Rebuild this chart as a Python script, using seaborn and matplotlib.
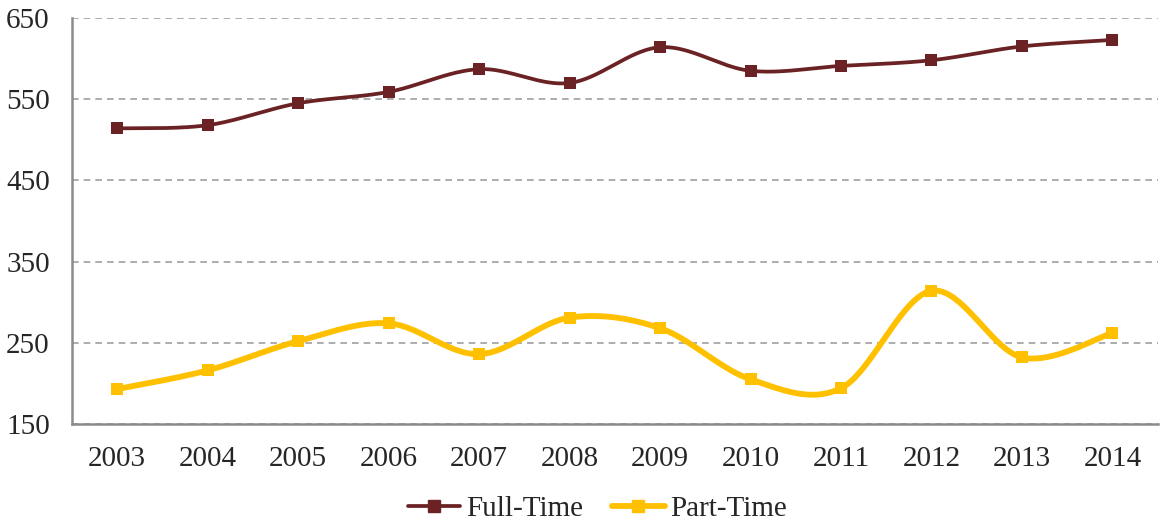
import numpy as np
import pandas as pd
import matplotlib
matplotlib.use('Agg')
import matplotlib.pyplot as plt
from matplotlib.lines import Line2D
import seaborn as sns

anos = ['2003', '2004', '2005', '2006', '2007', '2008', '2009', '2010', '2011', '2012', '2013', '2014']
full_time = [514, 518, 545, 559, 587, 570, 614, 585, 591, 598, 615, 623]
part_time = [193, 216, 252, 274, 236, 281, 268, 205, 194, 314, 232, 262]

cor_full = '#6B2224'
cor_part = '#FFC000'
cor_cinza = '#8C8C8C'


def curva_suave(y, n=40):
    # bezier estilo excel (catmull-rom) entre os pontos
    y = np.asarray(y, dtype=float)
    x = np.arange(len(y), dtype=float)
    pts = np.column_stack([x, y])
    ext = np.vstack([pts[0], pts, pts[-1]])
    saida = []
    t = np.linspace(0, 1, n)[:, None]
    for i in range(len(pts) - 1):
        p0, p3 = ext[i + 1], ext[i + 2]
        p1 = p0 + (ext[i + 2] - ext[i]) / 6
        p2 = p3 - (ext[i + 3] - ext[i + 1]) / 6
        seg = (1 - t) ** 3 * p0 + 3 * (1 - t) ** 2 * t * p1 + 3 * (1 - t) * t ** 2 * p2 + t ** 3 * p3
        saida.append(seg if i == 0 else seg[1:])
    seg = np.vstack(saida)
    return pd.DataFrame({'x': seg[:, 0], 'y': seg[:, 1]})


sns.set_style('white')
plt.rcParams['font.family'] = ['Liberation Serif', 'DejaVu Serif']

fig = plt.figure(figsize=(11.6, 5.25), dpi=100)
ax = fig.add_axes([0.062, 0.1924, 0.936, 0.7733])

for serie, cor, lw in [(full_time, cor_full, 2.7), (part_time, cor_part, 4.2)]:
    df_curva = curva_suave(serie)
    sns.lineplot(data=df_curva, x='x', y='y', sort=False, color=cor, linewidth=lw, ax=ax, zorder=3)
    df_pontos = pd.DataFrame({'x': np.arange(len(anos)), 'y': serie})
    sns.scatterplot(data=df_pontos, x='x', y='y', marker='s', s=78, color=cor, edgecolor=cor,
                    linewidth=0, ax=ax, zorder=4)

ax.set_xlim(-0.5, len(anos) - 0.5)
ax.set_ylim(150, 650)
ax.set_yticks(range(150, 651, 100))
ax.set_xticks(np.arange(len(anos)))
ax.set_xticklabels(anos)
ax.set_xticks(np.arange(-0.5, len(anos), 1), minor=True)
ax.set_xlabel('')
ax.set_ylabel('')

ax.yaxis.grid(True, color='#A0A0A0', linestyle=(0, (4, 3)), linewidth=1.2)
ax.set_axisbelow(True)
for lado in ['top', 'right']:
    ax.spines[lado].set_visible(False)
for lado in ['left', 'bottom']:
    ax.spines[lado].set_color(cor_cinza)
    ax.spines[lado].set_linewidth(1.8)

fs = 21
ax.tick_params(axis='y', which='major', length=6, width=1.5, color=cor_cinza, labelsize=fs, pad=10,
               direction='out')
ax.tick_params(axis='x', which='major', length=0, labelsize=fs, pad=16)
ax.tick_params(axis='x', which='minor', length=6, width=1.5, color=cor_cinza, direction='out')

handles = [Line2D([0], [0], color=cor_full, lw=2.7, marker='s', markersize=8.5),
           Line2D([0], [0], color=cor_part, lw=4.2, marker='s', markersize=8.5)]
fig.legend(handles, ['Full-Time', 'Part-Time'], loc='center', bbox_to_anchor=(0.515, 0.03),
           ncol=2, frameon=False, fontsize=fs, handlelength=1.8, handletextpad=0.2, columnspacing=1.0)

fig.savefig('out.png', dpi=100)
